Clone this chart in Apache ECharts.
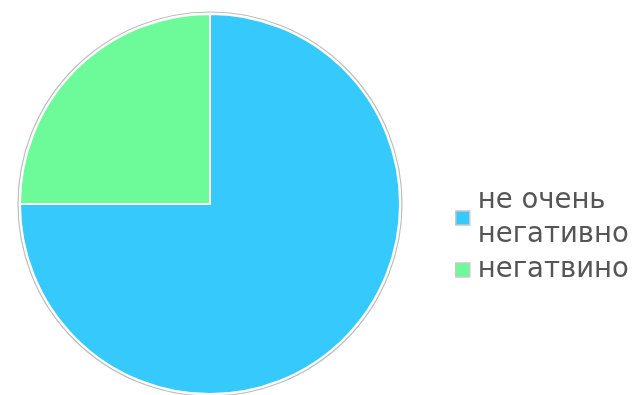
<!DOCTYPE html>
<html>
<head>
<meta charset="utf-8">
<script src="https://cdn.jsdelivr.net/npm/echarts@6/dist/echarts.min.js"></script>
<style>
  html, body { margin: 0; padding: 0; background: #fff; }
  #chart { width: 633px; height: 395px; }
</style>
</head>
<body>
<div id="chart"></div>
<script>
// Answer categories and their shares
const categories = ['не очень\nнегативно', 'негатвино'];
const values = [75, 25];
const colors = ['#35c9fc', '#6cfb98'];

const chart = echarts.init(document.getElementById('chart'), null, { renderer: 'canvas' });

const sliceData = categories.map((name, i) => ({
  name: name,
  value: values[i],
  itemStyle: { color: colors[i] }
}));

chart.setOption({
  animation: false,
  backgroundColor: '#ffffff',
  legend: {
    orient: 'vertical',
    left: 450,
    top: 179,
    itemWidth: 14,
    itemHeight: 14,
    itemGap: 1,
    icon: 'rect',
    itemStyle: { borderColor: '#c8c8c8', borderWidth: 1.5 },
    textStyle: {
      fontFamily: '"DejaVu Sans", sans-serif',
      fontSize: 27.5,
      color: '#555555',
      lineHeight: 34,
      padding: [0, 0, 0, 3]
    },
    data: categories
  },
  series: [
    {
      // thin grey rim around the pie
      type: 'pie',
      silent: true,
      center: [210, 204],
      radius: [0, 192],
      label: { show: false },
      labelLine: { show: false },
      itemStyle: { color: '#ffffff', borderColor: '#bdbdbd', borderWidth: 1.2 },
      data: [{ value: 1, name: '' }],
      z: 1
    },
    {
      type: 'pie',
      center: [210, 204],
      radius: [0, 190],
      startAngle: 90,
      clockwise: true,
      label: { show: false },
      labelLine: { show: false },
      itemStyle: { borderColor: '#ffffff', borderWidth: 2 },
      emphasis: { disabled: true },
      data: sliceData,
      z: 2
    }
  ]
});
</script>
</body>
</html>
